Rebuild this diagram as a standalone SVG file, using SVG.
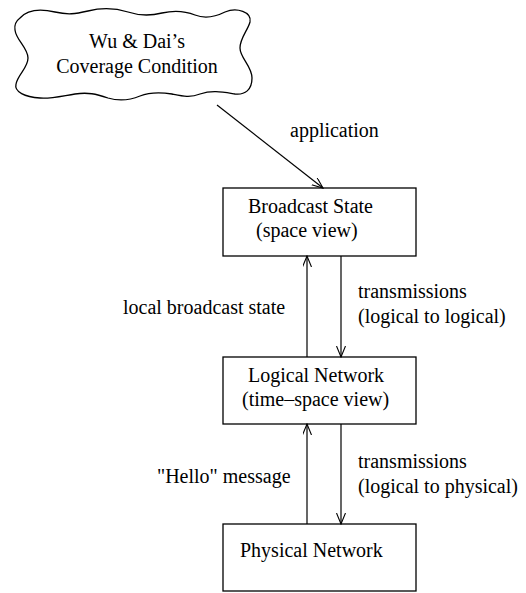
<svg xmlns="http://www.w3.org/2000/svg" width="526" height="593" viewBox="0 0 526 593">
<defs>
<style>
text{font-family:"Liberation Serif","Times New Roman",serif;font-size:20px;fill:#000}
.box{fill:#fff;stroke:#000;stroke-width:1.3}
.edge{fill:none;stroke:#000;stroke-width:1.2}
.mid{text-anchor:middle}
</style>
<marker id="ah" markerWidth="12" markerHeight="10" refX="11" refY="4.5" orient="auto" markerUnits="userSpaceOnUse">
<path d="M0,0 L11,4.5 L0,9" fill="none" stroke="#000" stroke-width="1.1"/>
</marker>
</defs>
<rect width="526" height="593" fill="#fff"/>
<g id="cloud">
<path class="box" d="M20,18 C28,9 42,9 55,12 C68,15 75,14 88,11 C100,8 115,8 128,12 C140,16 150,16 162,13 C175,10 185,11 195,15 C205,19 215,17 225,12 C237,7 252,12 250,22 C248,30 240,38 240,48 C240,58 252,66 252,78 C252,90 245,95 235,94 C222,92 212,90 200,94 C190,98 182,96 172,94 C160,92 150,92 140,96 C128,101 118,101 108,98 C96,94 88,92 75,94 C62,96 50,99 40,98 C25,97 14,92 16,84 C18,74 28,68 28,58 C28,48 16,40 15,30 C14,24 16,21 20,18 Z"/>
<text class="mid" x="137" y="48">Wu &amp; Dai’s</text>
<text class="mid" x="137" y="73">Coverage Condition</text>
</g>
<g id="broadcast">
<rect class="box" x="223" y="188" width="193" height="68"/>
<text x="248" y="213">Broadcast State</text>
<text x="256" y="237">(space view)</text>
</g>
<g id="logical">
<rect class="box" x="223" y="357" width="193" height="67"/>
<text x="248" y="382">Logical Network</text>
<text x="242" y="406">(time–space view)</text>
</g>
<g id="physical">
<rect class="box" x="223" y="524" width="193" height="67"/>
<text x="240" y="557">Physical Network</text>
</g>
<g id="connectors">
<line class="edge" x1="217" y1="105" x2="323" y2="188" marker-end="url(#ah)"/>
<line class="edge" x1="307" y1="357" x2="307" y2="256" marker-end="url(#ah)"/>
<line class="edge" x1="341" y1="256" x2="341" y2="357" marker-end="url(#ah)"/>
<line class="edge" x1="307" y1="524" x2="307" y2="424" marker-end="url(#ah)"/>
<line class="edge" x1="341" y1="424" x2="341" y2="524" marker-end="url(#ah)"/>
<text x="290" y="137">application</text>
<text x="123" y="314">local broadcast state</text>
<text x="358" y="298">transmissions</text>
<text x="358" y="323">(logical to logical)</text>
<text x="157" y="483">"Hello" message</text>
<text x="358" y="468">transmissions</text>
<text x="358" y="493">(logical to physical)</text>
</g>
</svg>
